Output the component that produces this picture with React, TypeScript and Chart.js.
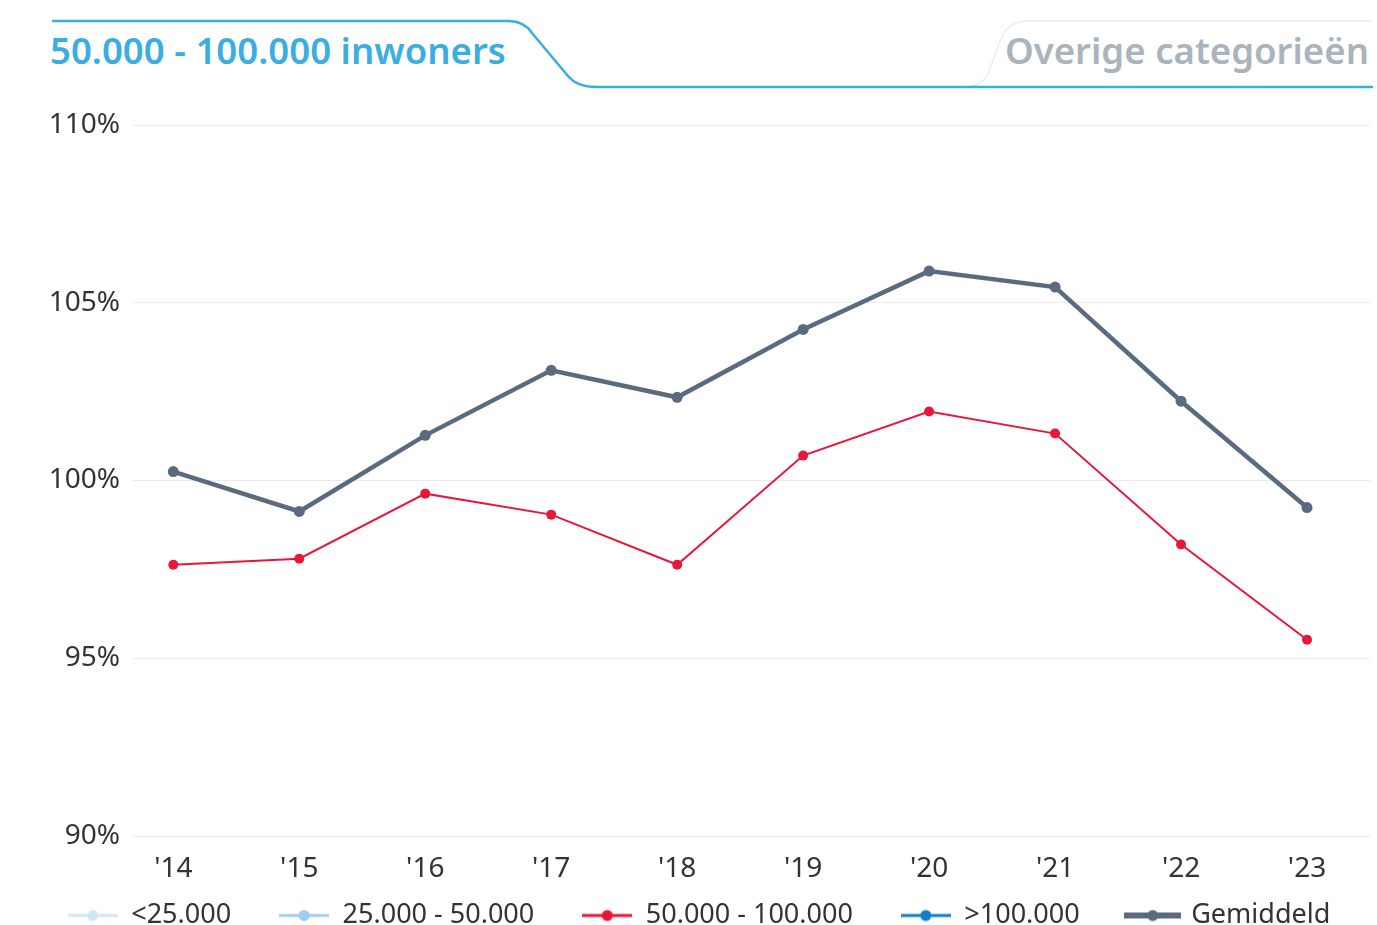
import React, { useEffect, useRef } from "react";
import { Chart, registerables } from "chart.js";

Chart.register(...registerables);

const years = [2014, 2015, 2016, 2017, 2018, 2019, 2020, 2021, 2022, 2023];
const tickLabels = ["'14", "'15", "'16", "'17", "'18", "'19", "'20", "'21", "'22", "'23"];
const gemiddeld = [100.25, 99.13, 101.27, 103.1, 102.34, 104.25, 105.89, 105.44, 102.23, 99.24];
const cat50to100 = [97.63, 97.8, 99.63, 99.04, 97.63, 100.7, 101.94, 101.32, 98.2, 95.52];
const catBelow25: number[] = [];
const cat25to50: number[] = [];
const catAbove100: number[] = [];
const seriesNames = ["<25.000", "25.000 - 50.000", "50.000 - 100.000", ">100.000", "Gemiddeld"];
const yTicks = [90, 95, 100, 105, 110];

const FONT = "'Noto Sans', sans-serif";

function marker(color: string, lineW: number, width: number, r: number) {
  const c = document.createElement("canvas");
  c.width = width;
  c.height = 16;
  const ctx = c.getContext("2d")!;
  ctx.strokeStyle = color;
  ctx.lineWidth = lineW;
  ctx.beginPath();
  ctx.moveTo(0, 8);
  ctx.lineTo(width, 8);
  ctx.stroke();
  ctx.fillStyle = color;
  ctx.beginPath();
  ctx.arc(width / 2, 8, r, 0, Math.PI * 2);
  ctx.fill();
  return c;
}

const legendShift = {
  id: "legendShift",
  afterLayout(chart: any) {
    const l = chart.legend;
    if (l) {
      l.top -= 34;
      l.bottom -= 34;
      l.left += 14;
      l.right += 14;
    }
  },
};

export default function App() {
  const ref = useRef<HTMLCanvasElement>(null);
  useEffect(() => {
    const toPts = (arr: number[]) => arr.map((v, i) => ({ x: years[i], y: v }));
    const colors = ["#cfe6f7", "#9fcbef", "#e8173a", "#0b7fc8", "#5b6b7f"];
    const widths = [3, 3, 2, 3, 4.5];
    const radii = [5, 5, 5, 5, 5.5];
    const data = [catBelow25, cat25to50, cat50to100, catAbove100, gemiddeld];
    const markers = [
      marker(colors[0], 3, 50, 5.5),
      marker(colors[1], 3, 50, 5.5),
      marker(colors[2], 3, 50, 5.5),
      marker(colors[3], 3, 50, 5.5),
      marker(colors[4], 6, 57, 5.5),
    ];
    const chart = new Chart(ref.current!, {
      type: "line",
      plugins: [legendShift],
      data: {
        datasets: data.map((d, i) => ({
          label: seriesNames[i],
          data: toPts(d),
          borderColor: colors[i],
          backgroundColor: colors[i],
          borderWidth: widths[i],
          pointRadius: radii[i],
          pointBorderWidth: 0,
          tension: 0,
        })),
      },
      options: {
        animation: false,
        responsive: false,
        layout: { padding: { left: 0, right: 7, top: 125, bottom: -48 } },
        scales: {
          x: {
            type: "linear",
            min: 2013.68,
            max: 2023.5,
            grid: { display: false },
            border: { display: false },
            afterBuildTicks: (s: any) => {
              s.ticks = years.map((v) => ({ value: v }));
            },
            afterFit: (s: any) => {
              s.height = 52;
            },
            ticks: {
              padding: 8,
              maxRotation: 0,
              autoSkip: false,
              color: "#333",
              font: { family: FONT, size: 28 },
              callback: (v: any) => tickLabels[years.indexOf(Number(v))] ?? "",
            },
          },
          y: {
            min: 90,
            max: 110,
            afterBuildTicks: (s: any) => {
              s.ticks = yTicks.map((v) => ({ value: v }));
            },
            afterFit: (s: any) => {
              s.width = 133;
            },
            grid: { color: "#ebebeb", lineWidth: 1, drawTicks: false },
            border: { display: false },
            ticks: {
              padding: 13,
              color: "#333",
              font: { family: FONT, size: 28 },
              callback: (v: any) => v + "%",
            },
          },
        },
        plugins: {
          tooltip: { enabled: false },
          legend: {
            position: "bottom",
            labels: {
              usePointStyle: true,
              pointStyleWidth: 50,
              boxHeight: 16,
              padding: 48,
              color: "#333",
              font: { family: FONT, size: 27 },
              generateLabels: () =>
                seriesNames.map((n, i) => ({
                  text: n,
                  datasetIndex: i,
                  hidden: false,
                  fillStyle: colors[i],
                  strokeStyle: colors[i],
                  lineWidth: 0,
                  pointStyle: markers[i] as any,
                  fontColor: "#333",
                })),
            },
          },
        },
      },
    });
    return () => chart.destroy();
  }, []);

  return (
    <div style={{ position: "absolute", left: 0, top: 0, width: 1377, height: 925, overflow: "hidden", background: "#fff" }}>
      <svg width={1377} height={100} style={{ position: "absolute", left: 0, top: 0 }}>
        <path d="M965,87 Q980,87 987,76 L1003,34 Q1011,21 1030,21 H1372" fill="none" stroke="#e2f0fa" strokeWidth={1.5} />
        <path d="M52,21 H508 Q524,21 532,33 L568,76 Q577,87 596,87 H1373" fill="none" stroke="#3aaee0" strokeWidth={2.5} />
        <text x={50} y={64} fill="#3aaee0" fontFamily="'Noto Sans', sans-serif" fontWeight={600} fontSize={36.6}>
          50.000 - 100.000 inwoners
        </text>
        <text x={1369} y={64} textAnchor="end" fill="#a9b4bd" fontFamily="'Noto Sans', sans-serif" fontWeight={600} fontSize={36.6}>
          Overige categorieën
        </text>
      </svg>
      <canvas ref={ref} width={1377} height={925} style={{ position: "absolute", left: 0, top: 0 }} />
    </div>
  );
}
